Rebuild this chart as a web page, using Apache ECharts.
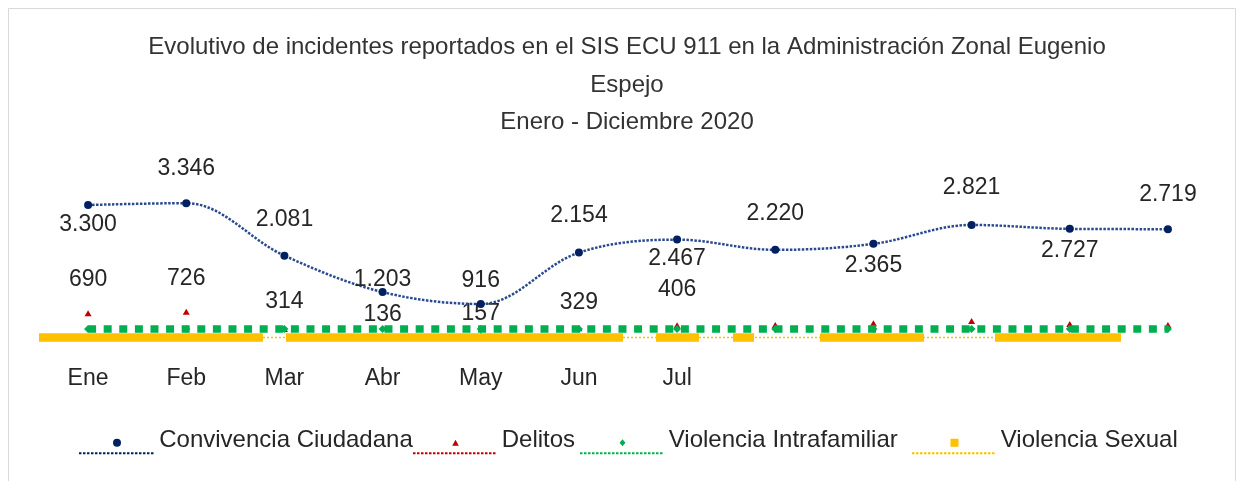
<!DOCTYPE html>
<html>
<head>
<meta charset="utf-8">
<script src="https://cdn.jsdelivr.net/npm/echarts@6/dist/echarts.min.js"></script>
<style>
html,body{margin:0;padding:0;background:#fff;}
#chart{width:1244px;height:481px;}
</style>
</head>
<body>
<div id="chart"></div>
<script>
// ---- Data ----
const months = ['Ene','Feb','Mar','Abr','May','Jun','Jul','Ago','Sep','Oct','Nov','Dic'];
const tickLabels = ['Ene','Feb','Mar','Abr','May','Jun','Jul','','','','',''];
const convivencia = [3300,3346,2081,1203,916,2154,2467,2220,2365,2821,2727,2719];
const delitos = [690,726,314,136,157,329,406,410,450,505,435,410];
const intrafamiliar = [314,314,314,314,314,314,314,314,314,314,314,314];
const sexual = [108,108,108,108,108,108,108,108,108,108,108,108];
const seriesNames = ['Convivencia Ciudadana','Delitos','Violencia Intrafamiliar','Violencia Sexual'];

// ---- Styles (label offsets, visibility) ----
const convLabelDy = [20,-34,-36,-12,-23,-37,19,-36,22,-37,22,-35];
const delLabelDy = [-34,-33,-27,-22,-22,-26,-35,0,0,0,0,0];
const delLabelShow = [true,true,true,true,true,true,true,false,false,false,false,false];

const FONT = '"Liberation Sans", Arial, sans-serif';
const TXT = '#262626';

function fmtThousands(v){
  return String(v).replace(/\B(?=(\d{3})+(?!\d))/g, '.');
}

// legend icon path: marker above a dotted line
function iconPath(kind, W, h){
  const L = 10.6 + h;          // line centre
  const cx = W/2, cy = L - 10.6;
  let p = '';
  if (kind === 'circle') {
    p += `M${cx-h} ${cy}A${h} ${h} 0 1 0 ${cx+h} ${cy}A${h} ${h} 0 1 0 ${cx-h} ${cy}Z`;
  } else if (kind === 'triangle') {
    p += `M${cx} ${cy-h}L${cx+h*1.1} ${cy+h}L${cx-h*1.1} ${cy+h}Z`;
  } else if (kind === 'diamond') {
    p += `M${cx} ${cy-h}L${cx+h*0.85} ${cy}L${cx} ${cy+h}L${cx-h*0.85} ${cy}Z`;
  } else {
    p += `M${cx-h} ${cy-h}L${cx+h} ${cy-h}L${cx+h} ${cy+h}L${cx-h} ${cy+h}Z`;
  }
  for (let x = 0; x + 2.5 <= W + 0.01; x += 4) {
    p += `M${x} ${L-1}L${x+2.5} ${L-1}L${x+2.5} ${L+1}L${x} ${L+1}Z`;
  }
  return {path: 'path://' + p, H: L + 1, L: L};
}

function makeLegend(name, kind, W, h, textLeft){
  const ic = iconPath(kind, W, h);
  const lineY = 453.3;
  const iconTop = lineY - ic.L;
  const iconCenter = iconTop + ic.H/2;
  const s = Math.max(1, 2*(iconCenter - 440.5));
  const total = 24 + s;
  const overflow = Math.max(0, total/2 - ic.H/2);
  return {
    show: true,
    data: [{name: name, icon: ic.path}],
    left: textLeft - 5 - W,
    top: iconTop - overflow,
    padding: 0,
    itemWidth: W,
    itemHeight: ic.H,
    itemGap: 0,
    itemStyle: {borderWidth: 0},
    formatter: function(n){ return '{t|' + n + '}\n{s|}'; },
    textStyle: {
      fontFamily: FONT, fontSize: 24, color: TXT,
      rich: {
        t: {fontFamily: FONT, fontSize: 24, color: TXT, lineHeight: 24},
        s: {fontSize: 1, lineHeight: s}
      }
    }
  };
}

const chart = echarts.init(document.getElementById('chart'), null, {renderer: 'canvas'});

const option = {
  backgroundColor: '#ffffff',
  animation: false,
  title: {
    text: 'Evolutivo de incidentes reportados en el SIS ECU 911 en la Administración Zonal Eugenio\nEspejo\nEnero - Diciembre 2020',
    left: 627,
    top: 29,
    padding: 0,
    textAlign: 'center',
    textStyle: {fontFamily: FONT, fontSize: 24, fontWeight: 'normal', color: '#333333', lineHeight: 37.5}
  },
  legend: [
    makeLegend(seriesNames[0], 'circle', 76, 4, 160),
    makeLegend(seriesNames[1], 'triangle', 85, 3, 503),
    makeLegend(seriesNames[2], 'diamond', 85, 3.5, 670),
    makeLegend(seriesNames[3], 'square', 85, 4, 1002)
  ],
  grid: {left: 39, right: 27, top: 176, bottom: 139, containLabel: false},
  xAxis: [
    {
      type: 'category', data: months, boundaryGap: true,
      axisLine: {show: false}, axisTick: {show: false}, splitLine: {show: false},
      axisLabel: {
        interval: 0, margin: 25,
        fontFamily: FONT, fontSize: 23, lineHeight: 23, color: TXT,
        formatter: function(v, i){ return tickLabels[i]; }
      }
    },
    {
      type: 'category', data: months, boundaryGap: false, show: false, position: 'bottom'
    }
  ],
  yAxis: {type: 'value', min: 0, max: 4000, show: false, splitLine: {show: false}},
  series: [
    {
      name: seriesNames[1], type: 'line',
      data: delitos.map((v, i) => ({
        value: v,
        label: {show: delLabelShow[i], offset: [0, delLabelDy[i]]}
      })),
      symbol: 'triangle', symbolSize: [7, 6],
      itemStyle: {color: '#c00000'},
      lineStyle: {width: 0, opacity: 0},
      label: {position: 'inside', fontFamily: FONT, fontSize: 23, color: TXT},
      z: 2
    },
    {
      name: seriesNames[3], type: 'line', xAxisIndex: 1,
      data: sexual.map((v, i) => i < 11 ? v : null),
      showSymbol: false, symbol: 'rect', symbolSize: 8,
      itemStyle: {color: '#ffc000'},
      lineStyle: {color: '#ffc000', width: 1.5, type: [2, 2]},
      z: 3, silent: true
    },
    {
      name: seriesNames[3], type: 'line', xAxisIndex: 1,
      data: sexual,
      showSymbol: false, symbol: 'rect', symbolSize: 8,
      itemStyle: {color: '#ffc000'},
      lineStyle: {color: '#ffc000', width: 8.5, cap: 'butt', type: [224, 23, 337, 33, 43, 34, 21, 66, 104, 71, 126, 400]},
      z: 3
    },
    {
      name: seriesNames[2], type: 'line',
      data: intrafamiliar,
      symbol: 'diamond', symbolSize: 8,
      itemStyle: {color: '#00b050'},
      lineStyle: {color: '#00b050', width: 7.5, cap: 'butt', type: [8, 7.6]},
      z: 4
    },
    {
      name: seriesNames[0], type: 'line',
      data: convivencia.map((v, i) => ({
        value: v,
        label: {offset: [0, convLabelDy[i]]}
      })),
      smooth: 0.35,
      symbol: 'circle', symbolSize: 8,
      itemStyle: {color: '#002060'},
      lineStyle: {color: '#2a4a8f', width: 2.5, type: [2.5, 1.5]},
      label: {
        show: true, position: 'inside', fontFamily: FONT, fontSize: 23, color: TXT,
        formatter: function(p){ return fmtThousands(p.value); }
      },
      z: 5
    }
  ],
  graphic: [
    {
      type: 'rect', silent: true, z: -10,
      shape: {x: 8.5, y: 8.5, width: 1227, height: 490},
      style: {fill: 'none', stroke: '#d9d9d9', lineWidth: 1}
    }
  ]
};

chart.setOption(option);
</script>
</body>
</html>
